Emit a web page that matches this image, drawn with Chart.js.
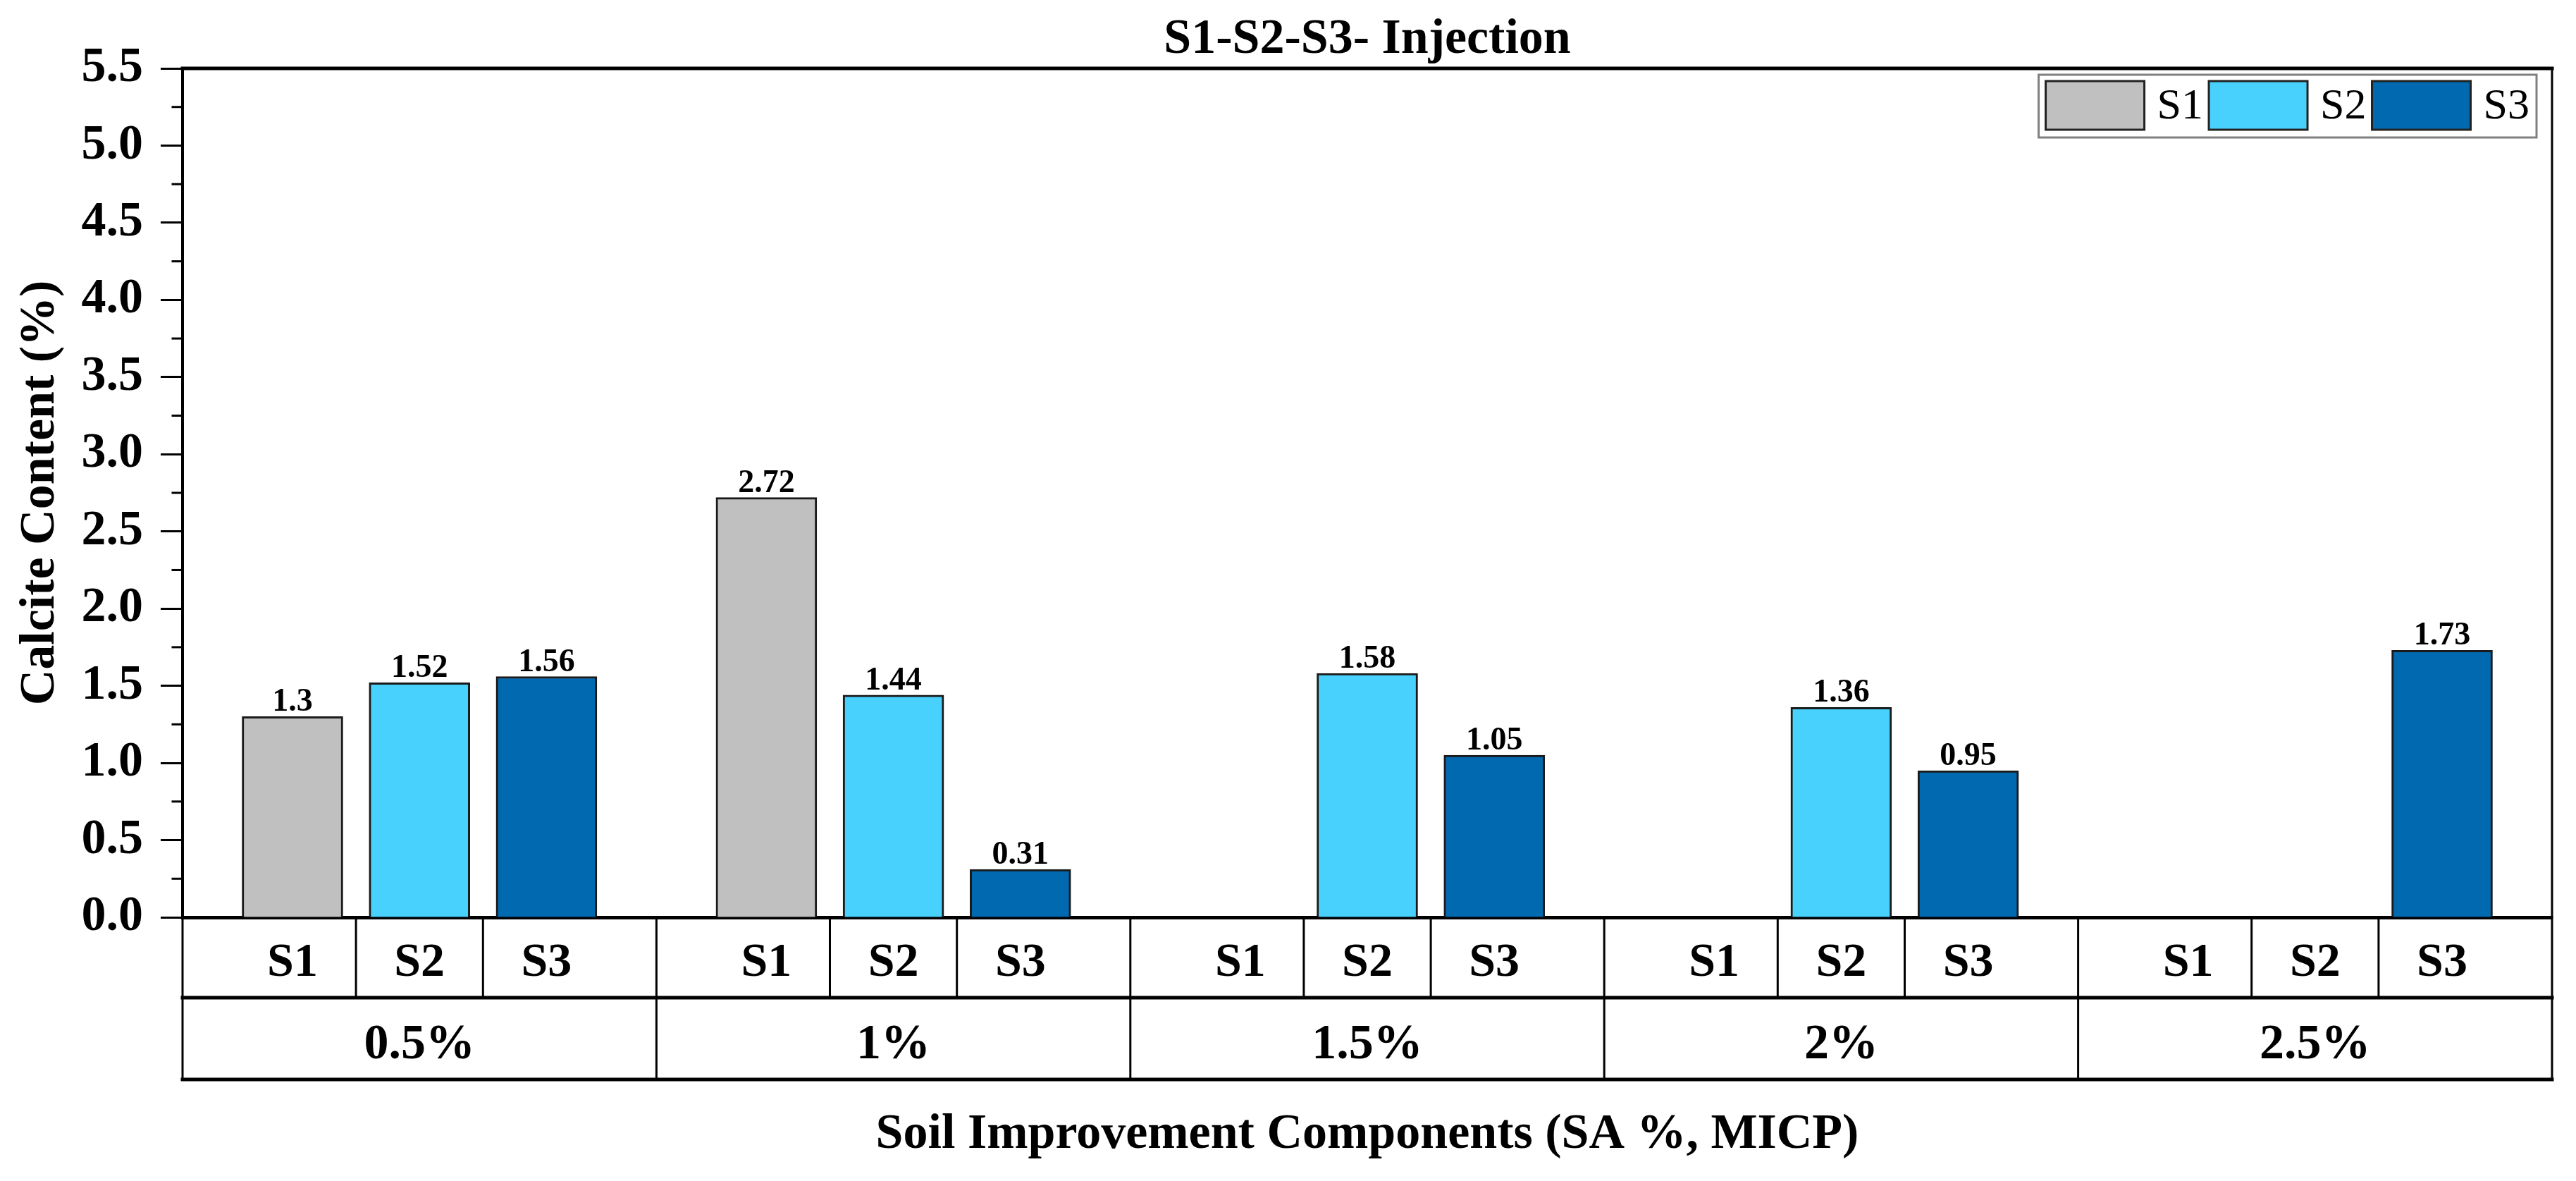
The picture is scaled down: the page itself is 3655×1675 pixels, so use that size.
<!DOCTYPE html>
<html>
<head>
<meta charset="utf-8">
<title>S1-S2-S3- Injection</title>
<script src="https://cdn.jsdelivr.net/npm/chart.js"></script>
<style>
  html, body { margin: 0; padding: 0; background: #fff; }
  canvas { display: block; }
</style>
</head>
<body>
<canvas id="chart-canvas" width="3655" height="1675"></canvas>
<script>
// data
const groupLabels = ["0.5%", "1%", "1.5%", "2%", "2.5%"];
const seriesLabels = ["S1", "S2", "S3"];
const s1Values = [1.3, 2.72, null, null, null];
const s2Values = [1.52, 1.44, 1.58, 1.36, null];
const s3Values = [1.56, 0.31, 1.05, 0.95, 1.73];
const yTickValues = [0, 0.5, 1, 1.5, 2, 2.5, 3, 3.5, 4, 4.5, 5, 5.5];
const yTickLabels = ["0.0", "0.5", "1.0", "1.5", "2.0", "2.5", "3.0", "3.5", "4.0", "4.5", "5.0", "5.5"];
const yMinorValues = [0.25, 0.75, 1.25, 1.75, 2.25, 2.75, 3.25, 3.75, 4.25, 4.75, 5.25];

// layout / style
const FONT = "'Liberation Serif', 'Times New Roman', serif";
const COLORS = ["#c0c0c0", "#49d1fd", "#0069af"];
const SLOT = [0.232, 0.5, 0.768];   // bar centre inside one group (group = 1 x unit)
const ROW1_H = 114;
const ROW2_H = 116;

const seriesValues = [s1Values, s2Values, s3Values];

const datasets = seriesValues.map((vals, j) => ({
    label: seriesLabels[j],
    data: vals.map((v, i) => v == null ? null : { x: i + SLOT[j], y: v }).filter(Boolean),
    backgroundColor: COLORS[j],
    borderColor: "#1a1a1a",
    borderWidth: 3,
    barThickness: 143,
    grouped: false
}));

const slotTicks = [];
groupLabels.forEach((g, i) => SLOT.forEach((s, j) => slotTicks.push({ value: i + s, label: seriesLabels[j] })));

function line(ctx, x1, y1, x2, y2) {
    ctx.beginPath();
    ctx.moveTo(x1, y1);
    ctx.lineTo(x2, y2);
    ctx.stroke();
}

const valueLabels = {
    id: "valueLabels",
    afterDatasetsDraw(chart) {
        const ctx = chart.ctx;
        ctx.save();
        ctx.font = "bold 46px " + FONT;
        ctx.fillStyle = "#000";
        ctx.textAlign = "center";
        ctx.textBaseline = "alphabetic";
        chart.data.datasets.forEach((ds, di) => {
            chart.getDatasetMeta(di).data.forEach((bar, i) => {
                ctx.fillText(String(ds.data[i].y), bar.x, bar.y - 8);
            });
        });
        ctx.restore();
    }
};

const tableAndFrame = {
    id: "tableAndFrame",
    afterDraw(chart) {
        const { ctx, chartArea } = chart;
        const x = chart.scales.x, y = chart.scales.y;
        const top = x.top, mid = x.top + ROW1_H, bottom = mid + ROW2_H;
        ctx.save();
        ctx.strokeStyle = "#000";
        ctx.lineCap = "square";

        // frame top and right
        ctx.lineWidth = 5;
        line(ctx, chartArea.left, chartArea.top, chartArea.right, chartArea.top);
        ctx.lineWidth = 3;
        line(ctx, chartArea.right, chartArea.top, chartArea.right, chartArea.bottom);

        // minor ticks on y
        yMinorValues.forEach(v => {
            const py = y.getPixelForValue(v);
            line(ctx, chartArea.left - 14, py, chartArea.left, py);
        });

        // table verticals
        ctx.lineWidth = 3;
        for (let g = 0; g <= groupLabels.length; g++) {
            const px = x.getPixelForValue(g);
            line(ctx, px, top, px, bottom);
        }
        groupLabels.forEach((gl, g) => {
            for (let k = 1; k < SLOT.length; k++) {
                const px = x.getPixelForValue(g + (SLOT[k - 1] + SLOT[k]) / 2);
                line(ctx, px, top, px, mid);
            }
        });
        // table horizontals
        ctx.lineWidth = 5;
        line(ctx, chartArea.left, mid, chartArea.right, mid);
        line(ctx, chartArea.left, bottom, chartArea.right, bottom);
        ctx.restore();
    }
};

const boxLegend = {
    id: "boxLegend",
    afterDraw(chart) {
        const { ctx, chartArea } = chart;
        const sw = 140, sh = 69, gap = 18, pad = 10;
        ctx.save();
        ctx.font = "62px " + FONT;
        const items = chart.data.datasets.map(ds => ({ text: ds.label, color: ds.backgroundColor, w: ctx.measureText(ds.label).width }));
        let width = pad;
        items.forEach(it => { width += sw + gap + it.w + 8; });
        width += 2;
        const bx = chartArea.right - 22 - width, by = chartArea.top + 9, bh = 89;
        ctx.fillStyle = "#fff";
        ctx.fillRect(bx, by, width, bh);
        ctx.strokeStyle = "#808080";
        ctx.lineWidth = 3;
        ctx.strokeRect(bx, by, width, bh);
        let cx = bx + pad;
        items.forEach(it => {
            ctx.fillStyle = it.color;
            ctx.fillRect(cx, by + 9, sw, sh);
            ctx.strokeStyle = "#222";
            ctx.lineWidth = 3;
            ctx.strokeRect(cx, by + 9, sw, sh);
            ctx.fillStyle = "#000";
            ctx.textAlign = "left";
            ctx.textBaseline = "middle";
            ctx.fillText(it.text, cx + sw + gap, by + 9 + sh / 2 + 2);
            cx += sw + gap + it.w + 8;
        });
        ctx.restore();
    }
};

Chart.defaults.color = "#000";
Chart.defaults.font.family = FONT;

new Chart(document.getElementById("chart-canvas").getContext("2d"), {
    type: "bar",
    data: { datasets: datasets },
    options: {
        responsive: false,
        devicePixelRatio: 1,
        animation: false,
        layout: { padding: { left: 0, right: 34, top: 0, bottom: 0 } },
        plugins: {
            legend: { display: false },
            tooltip: { enabled: false },
            title: {
                display: true,
                text: "S1-S2-S3- Injection",
                fullSize: false,
                color: "#000",
                font: { size: 70, weight: "bold", family: FONT },
                padding: { top: 15, bottom: -2 }
            }
        },
        scales: {
            x: {
                type: "linear",
                position: "bottom",
                weight: 1,
                min: 0,
                max: groupLabels.length,
                offset: false,
                grid: { display: false, offset: false },
                border: { display: true, color: "#000", width: 5 },
                afterBuildTicks: scale => { scale.ticks = slotTicks.map(t => ({ value: t.value })); },
                afterFit: scale => { scale.height = ROW1_H; },
                ticks: {
                    autoSkip: false,
                    maxRotation: 0,
                    padding: 17,
                    font: { size: 68, weight: "bold", family: FONT },
                    callback: (v, i) => slotTicks[i].label
                }
            },
            x2: {
                type: "linear",
                position: "bottom",
                axis: "x",
                weight: 2,
                min: 0,
                max: groupLabels.length,
                offset: false,
                grid: { display: false, offset: false },
                border: { display: false },
                afterBuildTicks: scale => { scale.ticks = groupLabels.map((g, i) => ({ value: i + 0.5 })); },
                afterFit: scale => { scale.height = 1675 - 1415; },
                ticks: {
                    autoSkip: false,
                    maxRotation: 0,
                    padding: 18,
                    font: { size: 70, weight: "bold", family: FONT },
                    callback: (v, i) => groupLabels[i]
                },
                title: {
                    display: true,
                    text: "Soil Improvement Components (SA %, MICP)",
                    font: { size: 70, weight: "bold", family: FONT },
                    padding: { top: 0, bottom: 23 }
                }
            },
            y: {
                type: "linear",
                min: 0,
                max: 5.5,
                afterBuildTicks: scale => { scale.ticks = yTickValues.map(v => ({ value: v })); },
                afterFit: scale => { scale.width = 259; },
                grid: { drawOnChartArea: false, drawTicks: true, tickLength: 31, tickWidth: 3, tickColor: "#000" },
                border: { display: true, color: "#000", width: 4 },
                ticks: {
                    padding: 25,
                    font: { size: 70, weight: "bold", family: FONT },
                    callback: (v, i) => yTickLabels[i]
                },
                title: {
                    display: true,
                    text: "Calcite Content (%)",
                    font: { size: 70, weight: "bold", family: FONT },
                    padding: { top: 16, bottom: 0 }
                }
            }
        }
    },
    plugins: [valueLabels, tableAndFrame, boxLegend]
});
</script>
</body>
</html>
